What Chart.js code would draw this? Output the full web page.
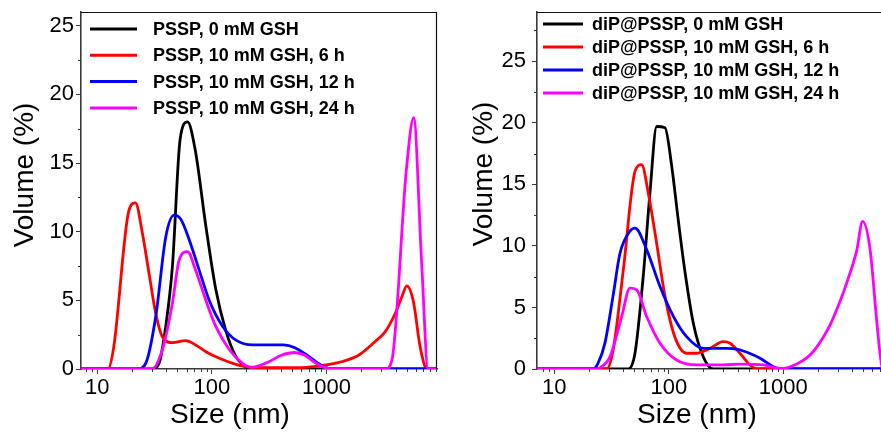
<!DOCTYPE html>
<html><head><meta charset="utf-8">
<script src="https://cdn.jsdelivr.net/npm/chart.js@4.4.1/dist/chart.umd.min.js"></script>
<style>
html,body{margin:0;padding:0;background:#fff;overflow:hidden}
#wrap{position:relative;width:881px;height:432px;background:#fff}
#c1{position:absolute;left:0;top:0}
#c2{position:absolute;left:440px;top:0}
</style></head><body>
<div id="wrap"><canvas id="c1" width="440" height="432"></canvas><canvas id="c2" width="441" height="432"></canvas></div>
<script>
// ---------- data ----------
const seriesColors = ['#000000', '#ff0000', '#0000ff', '#ff00ff'];
const leftLabels = ['PSSP, 0 mM GSH', 'PSSP, 10 mM GSH, 6 h', 'PSSP, 10 mM GSH, 12 h', 'PSSP, 10 mM GSH, 24 h'];
const rightLabels = ['diP@PSSP, 0 mM GSH', 'diP@PSSP, 10 mM GSH, 6 h', 'diP@PSSP, 10 mM GSH, 12 h', 'diP@PSSP, 10 mM GSH, 24 h'];
const xTickValues = [10, 100, 1000];
const xMinorValues = [8, 9, 20, 30, 40, 50, 60, 70, 80, 90, 200, 300, 400, 500, 600, 700, 800, 900, 2000, 3000, 4000, 5000, 6000, 7000, 8000, 9000];
const yTickValues = [0, 5, 10, 15, 20, 25];
const yMinorLeft = [2.5, 7.5, 12.5, 17.5, 22.5];
const yMinorRight = [2.5, 7.5, 12.5, 17.5, 22.5, 27.5];
const xTitle = 'Size (nm)';
const yTitle = 'Volume (%)';

// Left panel (PSSP)
const L_black_x = [7, 30, 34.5, 39.5, 45.2, 52.7, 61.2, 71.3, 88.5, 108, 132, 162, 186, 214, 10000];
const L_black_y = [0, 0, 0.4, 3.1, 7.5, 16.7, 18.0, 16.0, 10.4, 5.8, 2.8, 0.9, 0.3, 0, 0];
const L_red_x = [7, 12.4, 13.9, 18.8, 21.5, 24.7, 28.2, 32.3, 36.9, 45.2, 59, 72, 88.5, 116, 152, 199, 300, 600, 1000, 1350, 1900, 2650, 3240, 3980, 4560, 5020, 5730, 6560, 7540, 10000];
const L_red_y = [0, 0, 1.6, 11.5, 12.1, 9.9, 7.0, 4.06, 2.35, 1.92, 2.07, 1.75, 1.26, 0.78, 0.41, 0.17, 0.1, 0.1, 0.3, 0.53, 1.0, 2.0, 2.7, 4.06, 5.3, 6.05, 4.9, 1.6, 0, 0];
const L_blue_x = [7, 22.3, 26.4, 32.3, 39.5, 46.8, 53.5, 63.4, 77.4, 94.6, 124, 162, 227, 309, 420, 530, 690, 890, 1100, 10000];
const L_blue_y = [0, 0, 0.4, 3.8, 9.6, 11.2, 10.9, 9.4, 7.2, 5.0, 3.1, 2.1, 1.75, 1.75, 1.75, 1.55, 0.95, 0.3, 0, 0];
const L_mag_x = [7, 30, 36.9, 45.2, 51.6, 61.2, 72, 88.5, 108, 142, 186, 219, 309, 403, 525, 646, 795, 966, 1190, 3240, 3720, 4970, 5760, 6760, 7690, 10000];
const L_mag_y = [0, 0, 1.4, 4.8, 7.9, 8.55, 7.2, 5.0, 3.1, 1.4, 0.4, 0.12, 0.5, 1.0, 1.2, 1.0, 0.46, 0.1, 0, 0, 0.65, 14.5, 18.3, 7.7, 0, 0];

// Right panel (diP@PSSP)
const R_black_x = [7, 44.3, 50.7, 59.8, 68.5, 78.4, 92.7, 106, 121, 139, 164, 200, 245, 10000];
const R_black_y = [0, 0, 1.28, 7.5, 14.3, 19.7, 19.6, 16.5, 12.1, 7.8, 3.7, 1.0, 0, 0];
const R_red_x = [7, 28.6, 32.7, 40.1, 50.7, 57.9, 66.2, 78.4, 92.7, 113, 143, 175, 229, 299, 343, 418, 513, 588, 10000];
const R_red_y = [0, 0, 1.55, 8.05, 16.05, 16.6, 14.3, 10.2, 5.9, 2.6, 1.28, 1.28, 1.68, 2.22, 2.09, 1.28, 0.33, 0, 0];
const R_blue_x = [7, 21.9, 24.2, 27.7, 32.7, 37.5, 45.8, 50.7, 64.1, 83.8, 110, 143, 200, 321, 400, 500, 627, 818, 933, 10000];
const R_blue_y = [0, 0, 0.5, 2.1, 6.0, 9.4, 11.2, 11.45, 9.7, 6.7, 4.26, 2.63, 1.68, 1.68, 1.6, 1.3, 0.87, 0.19, 0, 0];
const R_mag_x = [7, 23.5, 25, 30.7, 38.8, 45.8, 52.5, 64.1, 83.8, 117, 175, 299, 415, 668, 933, 1000, 1310, 1600, 1820, 2240, 2570, 3160, 3580, 4370, 4930, 5710, 6530, 7000, 7400, 10000];
const R_mag_y = [0, 0, 0.1, 1.0, 4.26, 6.57, 6.43, 4.26, 2.09, 0.73, 0.33, 0.33, 0.4, 0.33, 0.05, 0.05, 0.4, 0.9, 1.4, 2.6, 3.6, 5.6, 7.0, 9.6, 12.0, 9.8, 4.0, 1.2, 0, 0];

// ---------- rendering ----------
const FONT = "'Liberation Sans', Arial, Helvetica, sans-serif";
const AXIS_COLOR = '#3a3a3a';

function pts(xs, ys) { return xs.map((x, i) => ({ x: x, y: ys[i] })); }

const decor = {
  id: 'decor',
  afterDraw(chart, args, o) {
    const ctx = chart.ctx, a = chart.chartArea, xs = chart.scales.x, ys = chart.scales.y;
    ctx.save();
    // minor ticks
    ctx.strokeStyle = AXIS_COLOR; ctx.lineWidth = 1;
    o.yMinor.forEach(v => {
      const p = Math.round(ys.getPixelForValue(v)) + 0.5;
      ctx.beginPath(); ctx.moveTo(a.left, p); ctx.lineTo(a.left - 3, p); ctx.stroke();
    });
    o.xMinor.forEach(v => {
      if (v < xs.min || v > xs.max) return;
      const p = Math.round(xs.getPixelForValue(v)) + 0.5;
      ctx.beginPath(); ctx.moveTo(p, a.bottom); ctx.lineTo(p, a.bottom + 3); ctx.stroke();
    });
    // box (top / right)
    ctx.strokeStyle = '#111'; ctx.lineWidth = 1.2;
    ctx.beginPath();
    ctx.moveTo(a.left, a.top + 0.5); ctx.lineTo(a.right - (o.rightBorder ? 0.5 : 0), a.top + 0.5);
    if (o.rightBorder) ctx.lineTo(a.right - 0.5, a.bottom);
    ctx.stroke();
    // legend
    ctx.font = 'bold ' + o.legFont + 'px ' + FONT;
    ctx.textAlign = 'left'; ctx.textBaseline = 'middle';
    chart.data.datasets.forEach((ds, i) => {
      const y = o.legY0 + i * o.legDy;
      ctx.strokeStyle = ds.borderColor; ctx.lineWidth = 3;
      ctx.beginPath(); ctx.moveTo(o.legX0, y); ctx.lineTo(o.legX1, y); ctx.stroke();
      ctx.fillStyle = '#000';
      ctx.fillText(ds.label, o.legTextX, y + 1);
    });
    // axis titles
    ctx.fillStyle = '#000'; ctx.font = '28px ' + FONT;
    ctx.textAlign = 'center'; ctx.textBaseline = 'alphabetic';
    ctx.fillText(xTitle, o.xTitleX, o.xTitleY);
    ctx.save(); ctx.translate(o.yTitleX, o.yTitleY); ctx.rotate(-Math.PI / 2);
    ctx.fillText(yTitle, 0, 0); ctx.restore();
    ctx.restore();
  }
};

function makeChart(canvasId, labels, xsArr, ysArr, p) {
  const datasets = labels.map((lab, i) => ({
    label: lab,
    data: pts(xsArr[i], ysArr[i]),
    borderColor: seriesColors[i],
    backgroundColor: seriesColors[i],
    borderWidth: 2.8,
    pointRadius: 0,
    cubicInterpolationMode: 'monotone',
    fill: false,
    order: labels.length - i
  }));
  return new Chart(document.getElementById(canvasId), {
    type: 'line',
    data: { datasets: datasets },
    options: {
      responsive: false,
      animation: false,
      events: [],
      layout: { padding: { top: p.top, right: p.right, left: 0, bottom: 0 } },
      plugins: { legend: { display: false }, tooltip: { enabled: false }, decor: p.decor },
      scales: {
        x: {
          type: 'logarithmic', min: p.xMin, max: p.xMax,
          grid: { drawOnChartArea: false, drawTicks: true, tickLength: 5, color: AXIS_COLOR, tickWidth: 1 },
          border: { display: true, color: AXIS_COLOR, width: 1.6 },
          ticks: { color: '#000', font: { family: FONT, size: 22 }, padding: 1, autoSkip: false, maxRotation: 0,
                   callback: (v) => String(v) },
          afterBuildTicks: (s) => { s.ticks = xTickValues.map(v => ({ value: v })); },
          afterFit: (s) => { s.height = p.xAxisH; s.paddingLeft = 0; s.paddingRight = 0; }
        },
        y: {
          type: 'linear', min: 0, max: p.yMax,
          grid: { drawOnChartArea: false, drawTicks: true, tickLength: 5, color: AXIS_COLOR, tickWidth: 1 },
          border: { display: true, color: AXIS_COLOR, width: 1.6 },
          ticks: { color: '#000', font: { family: FONT, size: 22 }, padding: p.yPad, callback: (v) => String(v) },
          afterBuildTicks: (s) => { s.ticks = yTickValues.map(v => ({ value: v })); },
          afterFit: (s) => { s.width = p.yAxisW; s.paddingTop = 0; s.paddingBottom = 0; }
        }
      }
    },
    plugins: [decor]
  });
}

makeChart('c1', leftLabels,
  [L_black_x, L_red_x, L_blue_x, L_mag_x],
  [L_black_y, L_red_y, L_blue_y, L_mag_y],
  { top: 12, right: 3, xAxisH: 63, yAxisW: 81, xMin: 7.2, xMax: 9200, yMax: 26, yPad: 2,
    decor: { yMinor: yMinorLeft, xMinor: xMinorValues, rightBorder: true,
             legFont: 18, legX0: 90, legX1: 137, legTextX: 153, legY0: 29, legDy: 26.3,
             xTitleX: 230, xTitleY: 423, yTitleX: 33, yTitleY: 175 } });

makeChart('c2', rightLabels,
  [R_black_x, R_red_x, R_blue_x, R_mag_x],
  [R_black_y, R_red_y, R_blue_y, R_mag_y],
  { top: 12, right: 0, xAxisH: 63, yAxisW: 97, xMin: 7.07, xMax: 7130, yMax: 29, yPad: 6,
    decor: { yMinor: yMinorRight, xMinor: xMinorValues, rightBorder: false,
             legFont: 18, legX0: 103, legX1: 143, legTextX: 152, legY0: 24, legDy: 23,
             xTitleX: 257, xTitleY: 423, yTitleX: 52, yTitleY: 174 } });
</script>
</body></html>
